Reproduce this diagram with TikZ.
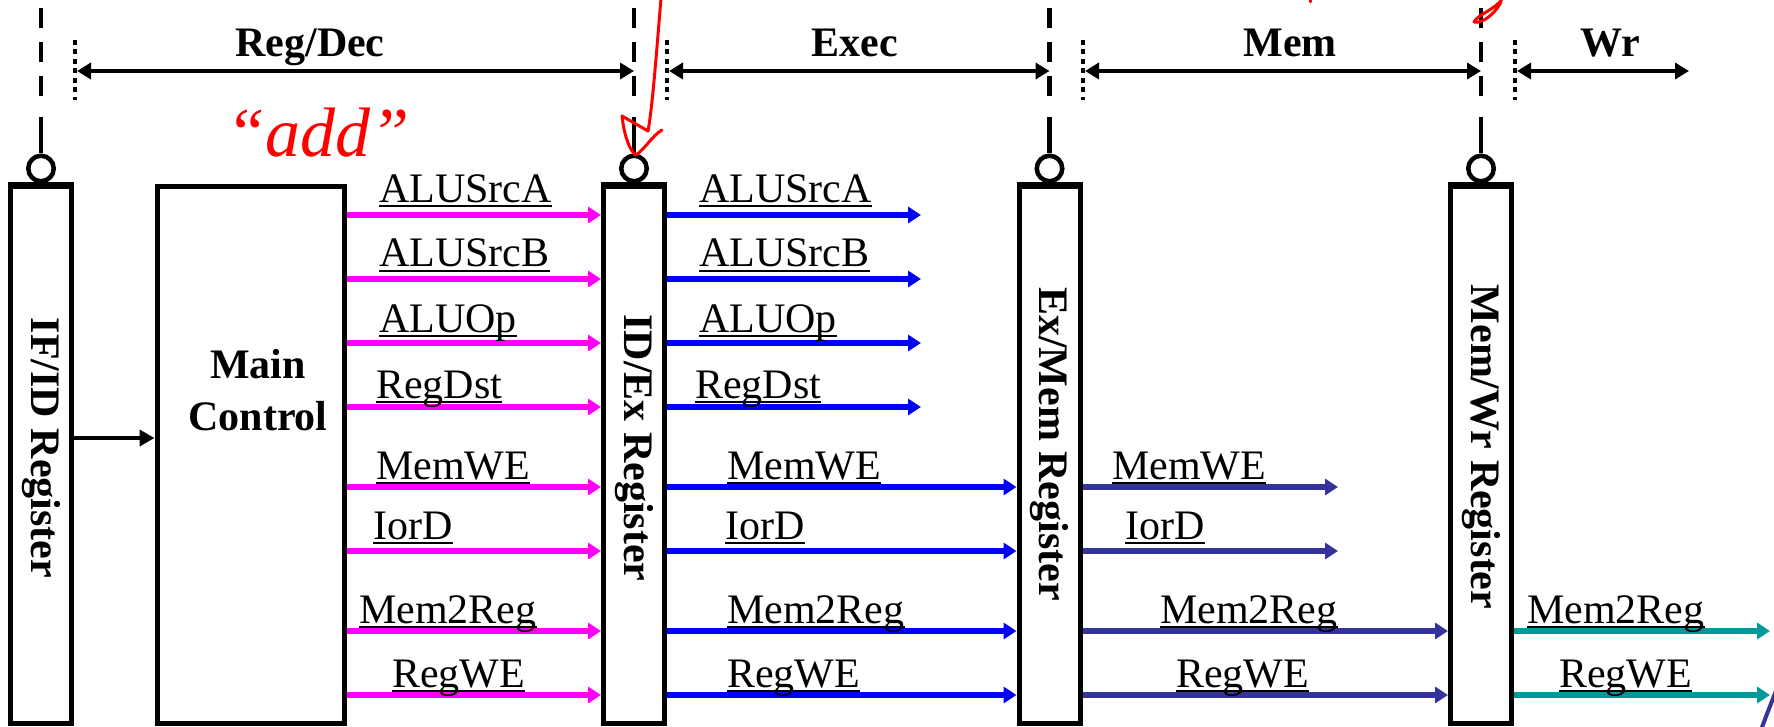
\documentclass[tikz,border=0pt]{standalone}
\usepackage{fontspec}
\setmainfont{Liberation Serif}
\usetikzlibrary{arrows.meta}

\definecolor{sigmag}{HTML}{FF00FF}
\definecolor{sigblue}{HTML}{0000FF}
\definecolor{signavy}{HTML}{333399}
\definecolor{sigteal}{HTML}{009999}
\definecolor{inkred}{HTML}{FF0000}

\newsavebox{\sigbox}
\newcommand{\ulname}[1]{\sbox{\sigbox}{#1}\rlap{\rule[-5pt]{\wd\sigbox}{2.4pt}}\usebox{\sigbox}}
\newcommand{\sigarrow}[4]{\draw[#1] (#2 |- #4) -- (#3 |- #4);}

\tikzset{
  regbox/.style={draw=black, line width=5pt, fill=white, minimum width=61pt, minimum height=537pt, inner sep=0pt},
  ctrlbox/.style={draw=black, line width=5pt, fill=white, minimum width=187pt, minimum height=537pt, inner sep=0pt},
  regtext/.style={rotate=-90, font=\fontsize{42}{50}\selectfont\bfseries, inner sep=0pt},
  ctrltext/.style={align=center, font=\fontsize{42}{52}\selectfont\bfseries, inner sep=0pt},
  stagetext/.style={anchor=base, font=\fontsize{42}{50}\selectfont\bfseries, inner sep=0pt},
  signame/.style={anchor=base west, font=\fontsize{42}{50}\selectfont, inner sep=0pt},
  sigline/.style={line width=5.5pt, -{Triangle[length=13pt,width=16pt]}},
  ctlsig/.style={sigline, sigmag},
  exsig/.style={sigline, sigblue},
  memsig/.style={sigline, signavy},
  wrsig/.style={sigline, sigteal},
  feed/.style={line width=4.5pt, -{Triangle[length=15pt,width=16pt]}},
  clk/.style={draw=black, line width=4.5pt, circle, fill=white, minimum size=25.5pt, inner sep=0pt},
  clkwire/.style={line width=4.5pt},
  clkdash/.style={line width=4.5pt, dash pattern=on 20pt off 14pt},
  stagedot/.style={line width=4.5pt, dash pattern=on 5pt off 4.5pt},
  stagespan/.style={line width=4.5pt, {Triangle[length=14pt,width=16pt]}-{Triangle[length=14pt,width=16pt]}},
  inktext/.style={inkred, font=\fontsize{70}{72}\selectfont\itshape, anchor=base, inner sep=0pt},
  ink/.style={draw=inkred, line width=3pt, line cap=round, line join=round}
}

\begin{document}
\begin{tikzpicture}[x=1pt, y=-1pt]
  \useasboundingbox (0,0) rectangle (1774,727);

  % boxes
  \node[regbox]  (ifid)    at (41,455) {};
  \node[ctrlbox] (mainctl) at (250.5,455) {};
  \node[regbox]  (idex)    at (634,455) {};
  \node[regbox]  (exmem)   at (1049.5,455) {};
  \node[regbox]  (memwr)   at (1481,455) {};
  \draw[line width=3pt] (ifid.north west) -- (ifid.north east);
  \draw[line width=3pt] (idex.north west) -- (idex.north east);
  \draw[line width=3pt] (exmem.north west) -- (exmem.north east);
  \draw[line width=3pt] (memwr.north west) -- (memwr.north east);
  \node[regtext] (ifidtxt)  at (41,448) {IF/ID Register};
  \node[regtext] (idextxt)  at (634,448) {ID/Ex Register};
  \node[regtext] (exmemtxt) at (1049.5,444) {Ex/Mem Register};
  \node[regtext] (memwrtxt) at (1481,447) {Mem/Wr Register};
  \node[ctrltext] (mainctltxt) at (258,390) {Main\\Control};

  % clocks
  \node[clk] (ifidclk)  at (41,168.5) {};
  \node[clk] (idexclk)  at (634,168.5) {};
  \node[clk] (exmemclk) at (1049.5,168.5) {};
  \node[clk] (memwrclk) at (1481,168.5) {};
  \draw[clkdash] (41,8) -- (41,102);
  \draw[clkdash] (634,8) -- (634,102);
  \draw[clkdash] (1049.5,8) -- (1049.5,102);
  \draw[clkdash] (1481,8) -- (1481,102);
  \draw[clkwire] (ifidclk.north) -- ++(0,-36);
  \draw[clkwire] (idexclk.north) -- ++(0,-36);
  \draw[clkwire] (exmemclk.north) -- ++(0,-36);
  \draw[clkwire] (memwrclk.north) -- ++(0,-36);

  % stages
  \coordinate (regdecl) at (77,71);
  \coordinate (execl) at (669,71);
  \coordinate (meml) at (1085,71);
  \coordinate (wrl) at (1517,71);
  \coordinate (wrr) at (1689,71);
  \draw[stagedot] (75,40) -- (75,100);
  \draw[stagedot] (667,40) -- (667,100);
  \draw[stagedot] (1083,40) -- (1083,100);
  \draw[stagedot] (1515,40) -- (1515,100);
  \draw[stagespan] (regdecl) -- (idexclk |- regdecl);
  \draw[stagespan] (execl) -- (exmemclk |- execl);
  \draw[stagespan] (meml) -- (memwrclk |- meml);
  \draw[stagespan] (wrl) -- (wrr);
  \node[stagetext] (regdectxt) at (310,57) {Reg/Dec};
  \node[stagetext] (exectxt) at (855,57) {Exec};
  \node[stagetext] (memtxt) at (1290,57) {Mem};
  \node[stagetext] (wrtxt) at (1610,57) {Wr};

  % signal rows
  \coordinate (rsrca) at (0,215);
  \coordinate (rsrcb) at (0,279);
  \coordinate (raluop) at (0,343);
  \coordinate (rregdst) at (0,407);
  \coordinate (rmemwe) at (0,487);
  \coordinate (riord) at (0,551);
  \coordinate (rm2r) at (0,631);
  \coordinate (rregwe) at (0,695);
  \coordinate (rfeed) at (0,438);
  \coordinate (execend) at (921,0);
  \coordinate (memend) at (1338,0);
  \coordinate (wrend) at (1770,0);

  \draw[feed] (ifid.east |- rfeed) -- (mainctl.west |- rfeed);

  \sigarrow{ctlsig}{mainctl.east}{idex.west}{rsrca}
  \sigarrow{ctlsig}{mainctl.east}{idex.west}{rsrcb}
  \sigarrow{ctlsig}{mainctl.east}{idex.west}{raluop}
  \sigarrow{ctlsig}{mainctl.east}{idex.west}{rregdst}
  \sigarrow{ctlsig}{mainctl.east}{idex.west}{rmemwe}
  \sigarrow{ctlsig}{mainctl.east}{idex.west}{riord}
  \sigarrow{ctlsig}{mainctl.east}{idex.west}{rm2r}
  \sigarrow{ctlsig}{mainctl.east}{idex.west}{rregwe}
  \node[signame] (ctlsrca) at (379,202.5) {\ulname{ALUSrcA}};
  \node[signame] (ctlsrcb) at (379,267) {\ulname{ALUSrcB}};
  \node[signame] (ctlaluop) at (379,332) {\ulname{ALUOp}};
  \node[signame] (ctlregdst) at (376,398) {\ulname{RegDst}};
  \node[signame] (ctlmemwe) at (376,479) {\ulname{MemWE}};
  \node[signame] (ctliord) at (373,539) {\ulname{IorD}};
  \node[signame] (ctlm2r) at (359,623) {\ulname{Mem2Reg}};
  \node[signame] (ctlregwe) at (392,687) {\ulname{RegWE}};

  \sigarrow{exsig}{idex.east}{execend}{rsrca}
  \sigarrow{exsig}{idex.east}{execend}{rsrcb}
  \sigarrow{exsig}{idex.east}{execend}{raluop}
  \sigarrow{exsig}{idex.east}{execend}{rregdst}
  \sigarrow{exsig}{idex.east}{exmem.west}{rmemwe}
  \sigarrow{exsig}{idex.east}{exmem.west}{riord}
  \sigarrow{exsig}{idex.east}{exmem.west}{rm2r}
  \sigarrow{exsig}{idex.east}{exmem.west}{rregwe}
  \node[signame] (exsrca) at (699,202.5) {\ulname{ALUSrcA}};
  \node[signame] (exsrcb) at (699,267) {\ulname{ALUSrcB}};
  \node[signame] (exaluop) at (699,332) {\ulname{ALUOp}};
  \node[signame] (exregdst) at (695,398) {\ulname{RegDst}};
  \node[signame] (exmemwe) at (727,479) {\ulname{MemWE}};
  \node[signame] (exiord) at (725,539) {\ulname{IorD}};
  \node[signame] (exm2r) at (727,623) {\ulname{Mem2Reg}};
  \node[signame] (exregwe) at (727,687) {\ulname{RegWE}};

  \sigarrow{memsig}{exmem.east}{memend}{rmemwe}
  \sigarrow{memsig}{exmem.east}{memend}{riord}
  \sigarrow{memsig}{exmem.east}{memwr.west}{rm2r}
  \sigarrow{memsig}{exmem.east}{memwr.west}{rregwe}
  \node[signame] (memmemwe) at (1112,479) {\ulname{MemWE}};
  \node[signame] (memiord) at (1125,539) {\ulname{IorD}};
  \node[signame] (memm2r) at (1160,623) {\ulname{Mem2Reg}};
  \node[signame] (memregwe) at (1176,687) {\ulname{RegWE}};

  \sigarrow{wrsig}{memwr.east}{wrend}{rm2r}
  \sigarrow{wrsig}{memwr.east}{wrend}{rregwe}
  \node[signame] (wrm2r) at (1527,623) {\ulname{Mem2Reg}};
  \node[signame] (wrregwe) at (1559,687) {\ulname{RegWE}};

  % pen marks
  \node[inktext] (addnote) at (318,157) {``add''};
  \draw[ink] (661,-2) .. controls (656,60) and (652,110) .. (648,131) -- (622,116)
    .. controls (624,135) and (630,152) .. (636,155) .. controls (644,150) and (652,136) .. (662,130);
  \draw[ink] (1503,-2) .. controls (1495,10) and (1478,14) .. (1474,22) .. controls (1482,24) and (1495,14) .. (1501,2);
  \draw[ink] (1310,-2) -- (1310,2);
  \draw[line width=4pt, signavy] (1777,688) .. controls (1771,704) and (1766,716) .. (1761,730);
\end{tikzpicture}
\end{document}
